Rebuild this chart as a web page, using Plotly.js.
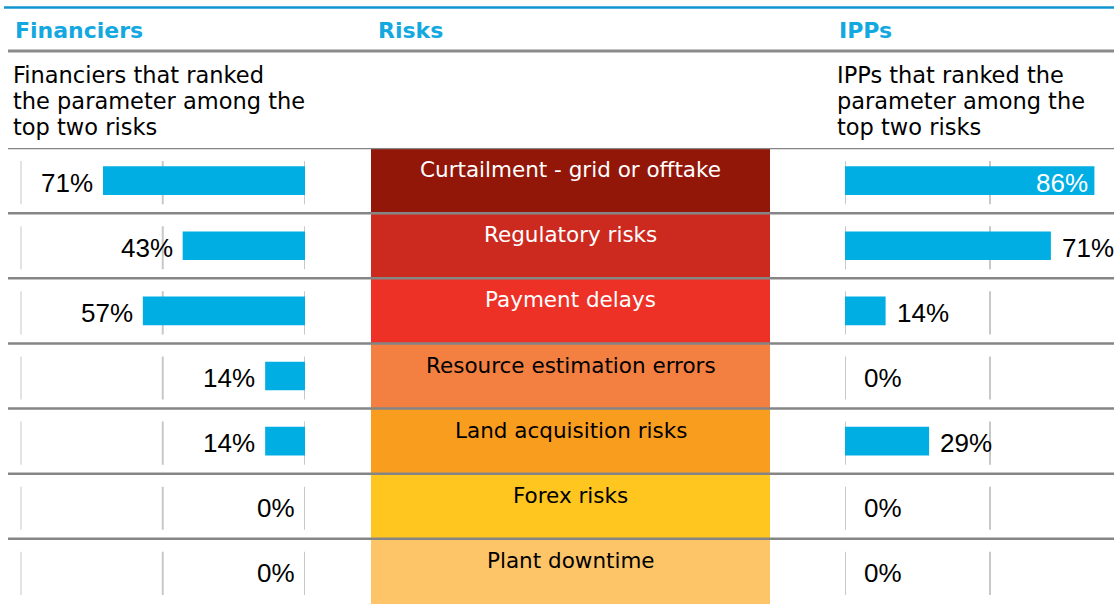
<!DOCTYPE html>
<html>
<head>
<meta charset="utf-8">
<script src="https://cdn.plot.ly/plotly-3.0.1.min.js"></script>
<style>
  html, body { margin: 0; padding: 0; background: #ffffff; }
  #chart { width: 1114px; height: 604px; }
</style>
</head>
<body>
<div id="chart"></div>
<script>
const risks = [
    "Curtailment - grid or offtake",
    "Regulatory risks",
    "Payment delays",
    "Resource estimation errors",
    "Land acquisition risks",
    "Forex risks",
    "Plant downtime"
];
const financiers = [71, 43, 57, 14, 14, 0, 0];
const ipps = [86, 71, 14, 0, 29, 0, 0];
const riskColors = ["#931709", "#CD2A1F", "#EE3126", "#F37F41", "#F99D1F", "#FEC61E", "#FEC468"];
const riskTextColors = ["#ffffff", "#ffffff", "#ffffff", "#000000", "#000000", "#000000", "#000000"];
const headers = ["Financiers", "Risks", "IPPs"];
const finNote = ["Financiers that ranked", "the parameter among the", "top two risks"];
const ippNote = ["IPPs that ranked the", "parameter among the", "top two risks"];

const W = 1114, H = 604;
const BLUE = "#00AEE3";
const HEAD = "#14A8E0";
const wideFont = "DejaVu Sans, Verdana, sans-serif";
const pctFont = "Liberation Sans, Arial, sans-serif";

// pixel helpers for paper coords
const px = x => x / W;
const py = y => 1 - y / H;

const ones = risks.map(() => 1);

const traces = [
    {
        type: "bar", orientation: "h",
        x: financiers, y: risks,
        xaxis: "x", yaxis: "y",
        width: 0.44,
        marker: { color: BLUE },
        hoverinfo: "skip"
    },
    {
        type: "bar", orientation: "h",
        x: ones, y: risks,
        xaxis: "x2", yaxis: "y",
        width: 1,
        marker: { color: riskColors, line: { width: 0 } },
        hoverinfo: "skip"
    },
    {
        type: "bar", orientation: "h",
        x: ipps, y: risks,
        xaxis: "x3", yaxis: "y",
        width: 0.44,
        marker: { color: BLUE },
        hoverinfo: "skip"
    }
];

const shapes = [];
const annotations = [];

// blue rule at the top and grey rule under the headers
shapes.push({ type: "line", xref: "paper", yref: "paper", x0: px(4), x1: 1, y0: py(7.5), y1: py(7.5),
    line: { color: "#1195D0", width: 2.5 } });
shapes.push({ type: "line", xref: "paper", yref: "paper", x0: px(8), x1: 1, y0: py(51), y1: py(51),
    line: { color: "#8a8a8a", width: 3 } });

// row separators
risks.forEach((r, i) => {
    shapes.push({ type: "line", xref: "paper", yref: "y", x0: px(8), x1: 1, y0: i - 0.5, y1: i - 0.5,
        line: { color: "#858585", width: 2.5 } });
});

// short grid ticks inside every row
const rowH = (H - 148) / risks.length;
const gridRuns = [
    { ref: "x", vals: [0, 50, 100] },
    { ref: "x3", vals: [0, 50] }
];
risks.forEach((r, i) => {
    gridRuns.forEach(g => {
        g.vals.forEach(v => {
            shapes.push({ type: "line", layer: "below", xref: g.ref, yref: "y",
                x0: v, x1: v, y0: i - 0.5 + 13 / rowH, y1: i + 0.5 - 9 / rowH,
                line: { color: "#c8c8c8", width: 2 } });
        });
    });
});

// column headers
const headerX = [13, 376, 837];
headers.forEach((h, i) => {
    annotations.push({ xref: "paper", yref: "paper", x: px(headerX[i]), y: py(30),
        xanchor: "left", yanchor: "middle", showarrow: false,
        text: "<b>" + h + "</b>", font: { family: wideFont, size: 22, color: HEAD } });
});

// notes under headers
[[finNote, 11], [ippNote, 835]].forEach(([lines, x0]) => {
    lines.forEach((t, k) => {
        annotations.push({ xref: "paper", yref: "paper", x: px(x0), y: py(75 + k * 26),
            xanchor: "left", yanchor: "middle", showarrow: false,
            text: t, font: { family: wideFont, size: 22.5, color: "#000000" } });
    });
});

// risk names on the coloured boxes
risks.forEach((r, i) => {
    annotations.push({ xref: "x2", yref: "y", x: 0.5, y: r, yshift: 11,
        xanchor: "center", yanchor: "middle", showarrow: false,
        text: r, font: { family: wideFont, size: 21.5, color: riskTextColors[i] } });
});

// percentage labels
financiers.forEach((v, i) => {
    annotations.push({ xref: "x", yref: "y", x: v, y: risks[i], xshift: -8, yshift: -2,
        xanchor: "right", yanchor: "middle", showarrow: false,
        text: v + "%", font: { family: pctFont, size: 26, color: "#000000" } });
});
ipps.forEach((v, i) => {
    const inside = v > 80;
    annotations.push({ xref: "x3", yref: "y", x: v, y: risks[i],
        xshift: inside ? -4 : (v === 0 ? 17 : 9), yshift: -2,
        xanchor: inside ? "right" : "left", yanchor: "middle", showarrow: false,
        text: v + "%", font: { family: pctFont, size: 26, color: inside ? "#ffffff" : "#000000" } });
});

const hidden = { showgrid: false, zeroline: false, showticklabels: false, showline: false, ticks: "", fixedrange: true };

const layout = {
    width: W, height: H,
    margin: { l: 0, r: 0, t: 0, b: 0 },
    paper_bgcolor: "#ffffff",
    plot_bgcolor: "rgba(0,0,0,0)",
    showlegend: false,
    barmode: "overlay",
    xaxis: Object.assign({}, hidden, { domain: [px(20.5), px(305)], range: [100, 0] }),
    xaxis2: Object.assign({}, hidden, { domain: [px(371), px(770)], range: [0, 1] }),
    xaxis3: Object.assign({}, hidden, { domain: [px(845), 1], range: [0, (W - 845) / 2.9] }),
    yaxis: Object.assign({}, hidden, { domain: [0, py(148)], type: "category",
        categoryorder: "array", categoryarray: risks, range: [risks.length - 0.5, -0.5] }),
    shapes: shapes,
    annotations: annotations
};

Plotly.newPlot("chart", traces, layout, { displayModeBar: false, staticPlot: true });
</script>
</body>
</html>
